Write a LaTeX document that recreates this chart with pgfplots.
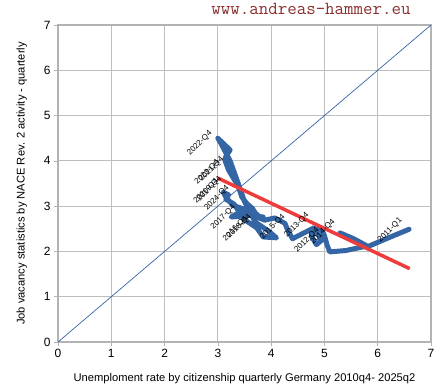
\documentclass[border=0pt]{standalone}
\usepackage{pgfplots}
\pgfplotsset{compat=1.18}
\usepackage{pgfplotstable}
\usepackage{fontspec}
\setmainfont{Liberation Sans}
\definecolor{curveblue}{HTML}{3465A4}
\definecolor{regred}{HTML}{EE3B3B}
\definecolor{gridgray}{HTML}{BEBEBE}
\definecolor{framegray}{HTML}{B3B3B3}
\definecolor{wmred}{HTML}{8B2E2E}

\pgfplotstableread{
x y
6.59 2.49
6.20 2.30
5.80 2.10
5.55 2.28
5.29 2.41
5.60 2.25
5.80 2.12
5.40 2.02
5.10 1.99
5.05 2.14
5.00 2.35
4.95 2.48
4.85 2.50
4.75 2.35
4.85 2.15
4.95 2.25
4.80 2.52
4.60 2.40
4.40 2.28
4.30 2.50
4.26 2.62
4.07 2.74
3.88 2.69
3.75 2.75
3.85 2.76
3.60 2.80
3.45 2.78
3.25 2.76
3.40 2.86
3.60 2.87
3.45 2.95
3.28 3.02
3.15 3.20
3.10 3.31
3.20 3.25
3.15 3.15
3.30 3.05
3.50 2.70
3.73 2.52
3.85 2.32
4.10 2.30
3.95 2.45
3.70 2.65
3.50 3.10
3.38 3.51
3.23 4.00
3.05 4.40
3.00 4.50
3.23 4.24
3.15 4.10
3.13 4.02
3.20 3.80
3.30 3.60
3.38 3.45
3.45 3.20
3.55 3.05
3.65 2.95
3.70 2.85
3.75 2.80
}\curve

\pgfplotstableread{
x y lab
2.66 4.39 2022-Q4
2.80 3.75 2023-Q4
2.88 3.82 2021-Q4
2.78 3.33 2020-Q4
2.84 3.38 2019-Q4
2.98 3.18 2024-Q4
3.10 2.76 2017-Q4
3.33 2.50 2016-Q4
3.40 2.55 2018-Q4
4.03 2.54 2015-Q4
4.48 2.58 2013-Q4
4.67 2.25 2012-Q4
4.97 2.43 2014-Q4
6.23 2.47 2011-Q1
}\labels

\begin{document}
\begin{tikzpicture}[x=1bp,y=1bp]
\useasboundingbox (0,0) rectangle (447,390);
\node[font=\ttfamily\fontsize{18.5}{18.5}\selectfont, text=wmred] at (311,381) {www.andreas-hammer.eu};
\begin{axis}[
  at={(58bp,48bp)}, anchor=south west,
  scale only axis, width=373bp, height=317bp,
  xmin=0, xmax=7, ymin=0, ymax=7,
  xtick={0,...,7}, ytick={0,...,7},
  grid=major, grid style={gridgray, line width=0.8pt},
  axis line style={framegray, line width=2.8pt},
  tick align=outside, tick pos=left,
  major tick length=4bp,
  tick style={framegray, line width=0.6pt},
  tick label style={font=\fontsize{12}{12}\selectfont},
  /pgf/number format/assume math mode=true,
  xlabel={Unemploment rate by citizenship quarterly Germany 2010q4- 2025q2},
  ylabel={Job vacancy statistics by NACE Rev. 2 activity - quarterly},
  label style={font=\fontsize{11.2}{12}\selectfont},
  xlabel style={yshift=-9bp},
  ylabel style={yshift=10bp},
  clip=true,
]
\addplot[curveblue, line width=5pt, line join=round, line cap=round] table[x=x,y=y] {\curve};
\addplot[curveblue, line width=0.7pt] coordinates {(0,0) (7,7)};
\addplot[regred, line width=3.5pt] coordinates {(3.0,3.62) (6.6,1.62)};
\addplot[draw=none, mark=none, nodes near coords, point meta=explicit symbolic,
  every node near coord/.style={anchor=center, rotate=45, inner sep=0pt, font=\fontsize{8}{8}\selectfont, text=black}]
  table[x=x,y=y,meta=lab] {\labels};
\end{axis}
\end{tikzpicture}
\end{document}
